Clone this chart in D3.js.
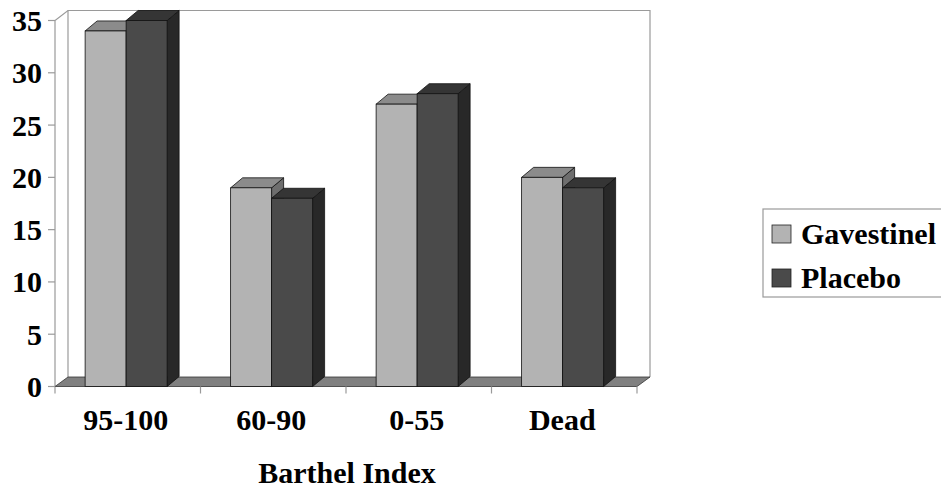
<!DOCTYPE html>
<html>
<head>
<meta charset="utf-8">
<script src="https://cdn.jsdelivr.net/npm/d3@7"></script>
<style>
  html, body { margin: 0; padding: 0; background: #fff; }
  svg { display: block; }
  text { font-family: "Liberation Serif", "Times New Roman", serif; font-weight: bold; fill: #000; }
</style>
</head>
<body>
<svg id="chart" width="941" height="488"></svg>
<script>
// Barthel Index outcome groups and patient percentages per arm
const categories = ["95-100", "60-90", "0-55", "Dead"];
const seriesNames = ["Gavestinel", "Placebo"];
const gavestinel = [34, 19, 27, 20];
const placebo = [35, 18, 28, 19];
const yTicks = [0, 5, 10, 15, 20, 25, 30, 35];
const xTitle = "Barthel Index";

const svg = d3.select("#chart");

// Front plane of the 3-D plot box and its depth offset
const plot = { left: 55, right: 637, top: 20.5, bottom: 386.5 };
const wallDepth = { dx: 13, dy: -9.5 };
const barDepth = { dx: 12, dy: -10 };

const y = d3.scaleLinear().domain([0, 35]).range([plot.bottom, plot.top]);
const x0 = d3.scaleBand().domain(categories).range([plot.left, plot.right]);
const inner = x0.bandwidth();
const x1 = d3.scaleBand().domain(seriesNames)
  .range([inner * 0.207, inner * 0.207 + 82]);

const faces = {
  Gavestinel: { front: "#b3b3b3", top: "#8b8b8b", side: "#6e6e6e" },
  Placebo: { front: "#4a4a4a", top: "#353535", side: "#282828" }
};
const wallStroke = "#9a9a9a";

const pts = a => a.map(p => p.join(",")).join(" ");

// Left side wall edges and back wall outline
const g = svg.append("g");
const bx = plot.left + wallDepth.dx, bxr = plot.right + wallDepth.dx;
const byTop = plot.top + wallDepth.dy - 0.5, byBot = plot.bottom + wallDepth.dy;
g.append("polyline")
  .attr("points", pts([[plot.left, plot.bottom], [plot.left, plot.top], [bx, byTop], [bxr, byTop], [bxr, byBot]]))
  .attr("fill", "none").attr("stroke", wallStroke).attr("stroke-width", 1.2);
g.append("line")
  .attr("x1", bx).attr("y1", byTop).attr("x2", bx).attr("y2", byBot)
  .attr("stroke", wallStroke).attr("stroke-width", 1.2);

// Floor
g.append("polygon")
  .attr("points", pts([[plot.left, plot.bottom], [plot.right, plot.bottom], [bxr, byBot], [bx, byBot]]))
  .attr("fill", "#808080").attr("stroke", "#333").attr("stroke-width", 0.8);

// Y axis ticks and labels
const yAxis = g.append("g");
yTicks.forEach(t => {
  yAxis.append("line")
    .attr("x1", plot.left - 7).attr("x2", plot.left)
    .attr("y1", y(t)).attr("y2", y(t))
    .attr("stroke", wallStroke).attr("stroke-width", 1.2);
  yAxis.append("text")
    .attr("x", plot.left - 13).attr("y", y(t))
    .attr("dy", "0.35em").attr("text-anchor", "end")
    .attr("font-size", 30).text(t);
});

// X axis category ticks and labels
const xAxis = g.append("g");
const boundaries = categories.map(c => x0(c)).concat([plot.right]);
boundaries.forEach(b => {
  xAxis.append("line")
    .attr("x1", b).attr("x2", b)
    .attr("y1", plot.bottom).attr("y2", plot.bottom + 7)
    .attr("stroke", wallStroke).attr("stroke-width", 1.2);
});
categories.forEach(c => {
  xAxis.append("text")
    .attr("x", x0(c) + inner / 2 - 2).attr("y", 430)
    .attr("text-anchor", "middle").attr("font-size", 30).text(c);
});
g.append("text")
  .attr("x", 347).attr("y", 483)
  .attr("text-anchor", "middle").attr("font-size", 30).text(xTitle);

// 3-D columns
const values = { Gavestinel: gavestinel, Placebo: placebo };
const bars = svg.append("g");
categories.forEach((c, i) => {
  seriesNames.forEach(s => {
    const v = values[s][i];
    const xl = x0(c) + x1(s), xr = xl + x1.bandwidth();
    const yt = y(v), yb = y(0);
    const { dx, dy } = barDepth;
    const col = faces[s];
    const bg = bars.append("g");
    // right side face
    bg.append("polygon")
      .attr("points", pts([[xr, yb], [xr, yt], [xr + dx, yt + dy], [xr + dx, yb + dy]]))
      .attr("fill", col.side).attr("stroke", "#111").attr("stroke-width", 0.8);
    // top face
    bg.append("polygon")
      .attr("points", pts([[xl, yt], [xr, yt], [xr + dx, yt + dy], [xl + dx, yt + dy]]))
      .attr("fill", col.top).attr("stroke", "#111").attr("stroke-width", 0.8);
    // front face
    bg.append("rect")
      .attr("x", xl).attr("y", yt)
      .attr("width", xr - xl).attr("height", yb - yt)
      .attr("fill", col.front).attr("stroke", "#111").attr("stroke-width", 0.8);
  });
});

// Legend
const lg = svg.append("g");
lg.append("rect")
  .attr("x", 763).attr("y", 209).attr("width", 190).attr("height", 88)
  .attr("fill", "#fff").attr("stroke", wallStroke).attr("stroke-width", 1.2);
seriesNames.forEach((s, i) => {
  const cy = 234 + i * 44;
  lg.append("rect")
    .attr("x", 772).attr("y", cy - 9).attr("width", 19).attr("height", 18)
    .attr("fill", faces[s].front).attr("stroke", "#222").attr("stroke-width", 0.8);
  lg.append("text")
    .attr("x", 801).attr("y", cy + 9.5)
    .attr("font-size", 30).text(s);
});
</script>
</body>
</html>
